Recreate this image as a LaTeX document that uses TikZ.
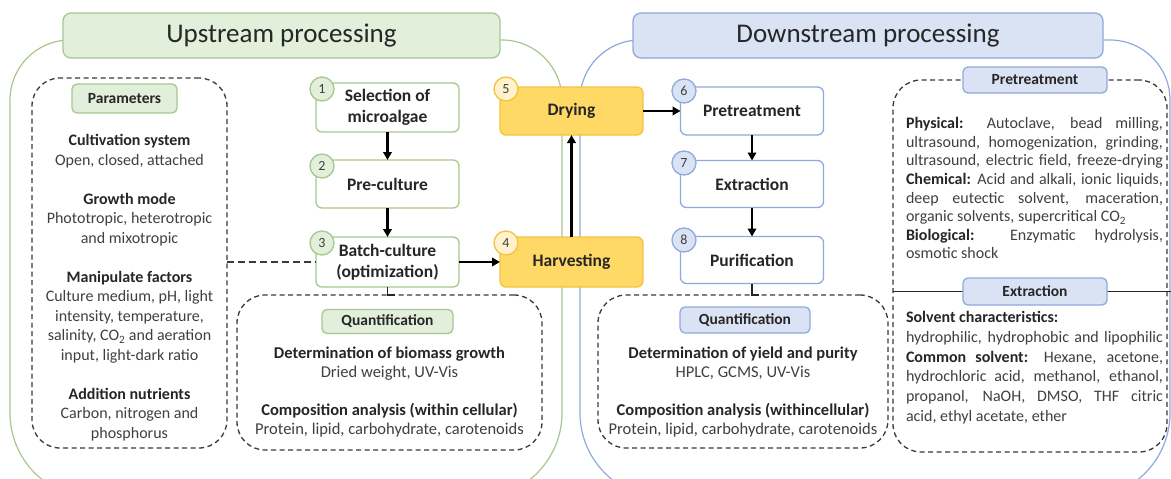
\documentclass[tikz,border=0pt]{standalone}
\usepackage{fontspec}
\setmainfont{Carlito}
\usetikzlibrary{arrows.meta,calc}
\definecolor{gfill}{HTML}{E2EFDA}
\definecolor{gline}{HTML}{A9C790}
\definecolor{bfill}{HTML}{DAE3F3}
\definecolor{bline}{HTML}{8FAADC}
\definecolor{yfill}{HTML}{FFD966}
\definecolor{yline}{HTML}{F5C242}
\definecolor{ycirc}{HTML}{FFF2CC}
\definecolor{txt}{HTML}{262626}
\definecolor{txtl}{HTML}{404040}
\definecolor{dash}{HTML}{3A3A3A}
\newcommand{\jline}[1]{\makebox[257pt][s]{#1}}
\tikzset{
  every node/.style={inner sep=0pt, outer sep=0pt, text=txt},
  outline/.style={line width=1.2pt},
  flow/.style={draw, rounded corners=6pt, line width=1.3pt, fill=white,
    minimum width=143pt, minimum height=48pt, align=center,
    font=\fontsize{17.5}{21}\selectfont\bfseries},
  gflow/.style={flow, draw=gline},
  bflow/.style={flow, draw=bline},
  yflow/.style={flow, draw=yline, fill=yfill},
  circ/.style={circle, minimum size=24pt, line width=1.3pt,
    font=\fontsize{14}{14}\selectfont, text=txtl},
  gcirc/.style={circ, draw=gline, fill=gfill},
  bcirc/.style={circ, draw=bline, fill=bfill},
  ycirc/.style={circ, draw=yline, fill=ycirc},
  titlebox/.style={draw, rounded corners=8pt, line width=1.3pt,
    minimum height=45pt, font=\fontsize{27}{30}\selectfont},
  label/.style={draw, rounded corners=5pt, line width=1.3pt,
    font=\fontsize{15.5}{18}\selectfont\bfseries},
  glabel/.style={label, draw=gline, fill=gfill},
  blabel/.style={label, draw=bline, fill=bfill},
  dbox/.style={draw=dash, dash pattern=on 5pt off 3.5pt, line width=1.3pt,
    rounded corners=28pt},
  body/.style={align=center, text=txtl, font=\fontsize{16}{19.5}\selectfont},
  arr/.style={line width=2.2pt, -{Triangle[length=8pt,width=8.5pt]}},
  dashln/.style={draw=dash, dash pattern=on 7pt off 4pt, line width=1.4pt},
}
\begin{document}
\begin{tikzpicture}[x=1pt, y=-1pt]
\useasboundingbox (0,0) rectangle (1171,479);
\fill[white] (0,0) rectangle (1171,479);
\begin{scope}
\clip (0,0) rectangle (1171,479);
% big outlines
\draw[outline, draw=gline] (10,300) [rounded corners=60pt] -- (10,40) -- (562,40) -- (562,300)
  [rounded corners=85pt] -- (562,498) -- (10,498) -- cycle;
\draw[outline, draw=bline] (580,300) [rounded corners=60pt] -- (580,40) -- (1170,40) -- (1170,300)
  [rounded corners=85pt] -- (1170,498) -- (580,498) -- cycle;
\end{scope}

% titles
\node[titlebox, draw=gline, fill=gfill, minimum width=437pt] (upT) at (281.5,35.5) {Upstream processing};
\node[titlebox, draw=bline, fill=bfill, minimum width=470pt] (dnT) at (868,35.5) {Downstream processing};

% dashed boxes
\node[dbox, minimum width=195pt, minimum height=370pt] (parB) at (129.5,263) {};
\node[dbox, minimum width=305pt, minimum height=155pt] (qU) at (389.5,372.5) {};
\node[dbox, minimum width=290pt, minimum height=153pt] (qD) at (743,371.5) {};
\node[dbox, minimum width=274pt, minimum height=372pt] (rB) at (1030,266) {};

% labels
\node[glabel, minimum width=105pt, minimum height=29pt] (parL) at (124.5,98.5) {Parameters};
\node[glabel, minimum width=131pt, minimum height=24pt] (qUL) at (387.5,321.5) {Quantification};
\node[blabel, minimum width=130pt, minimum height=26pt] (qDL) at (745,320) {Quantification};
\node[blabel, minimum width=144pt, minimum height=26pt] (preL) at (1035,80) {Pretreatment};
\coordinate (edgeR) at (1171,291.5);
\draw[line width=1.2pt, draw=txt] (rB.west |- edgeR) -- (edgeR);
\node[blabel, minimum width=144pt, minimum height=27pt] (extL) at (1035,291.5) {Extraction};

% flow boxes
\node[gflow, minimum height=49pt] (b1) at (387.5,107.5) {Selection of\\microalgae};
\node[gflow] (b2) at (387.5,184) {Pre-culture};
\node[gflow, minimum height=50pt] (b3) at (387.5,262) {Batch-culture\\(optimization)};
\node[yflow] (dry) at (571.5,111) {Drying};
\node[yflow, minimum height=50pt] (harv) at (571.5,262) {Harvesting};
\node[bflow] (b6) at (752,111) {Pretreatment};
\node[bflow, minimum height=47pt] (b7) at (752,184) {Extraction};
\node[bflow, minimum height=47pt] (b8) at (752,260) {Purification};

% circles
\node[gcirc] (c1) at (322,89) {1};
\node[gcirc] (c2) at (322,166) {2};
\node[gcirc] (c3) at (322,243) {3};
\node[ycirc] (c4) at (506,243) {4};
\node[ycirc] (c5) at (506,89) {5};
\node[bcirc] (c6) at (684,91) {6};
\node[bcirc] (c7) at (684,163) {7};
\node[bcirc] (c8) at (684,240) {8};

% arrows
\draw[arr] (b1) -- (b2);
\draw[arr] (b2) -- (b3);
\draw[arr] (b3) -- (harv);
\draw[arr] (harv) -- (dry);
\draw[arr] (dry) -- (b6);
\draw[arr] (b6) -- (b7);
\draw[arr] (b7) -- (b8);
\draw[dashln] (b3.west -| parB.east) -- (b3.west);
\draw[line width=1.2pt, draw=txt] (b3.south) -- (b3.south |- qU.north) -- ++(7,0);
\draw[line width=1.2pt, draw=txt] (b8.south) -- (b8.south |- qD.north) -- ++(7,0);

% texts
\node[body, anchor=north] (parT) at (129.5,134.6) {%
\textbf{\color{txt}Cultivation system}\\ Open, closed, attached\\[19.5pt]
\textbf{\color{txt}Growth mode}\\ Phototropic, heterotropic\\ and mixotropic\\[19.5pt]
\textbf{\color{txt}Manipulate factors}\\ Culture medium, pH, light\\ intensity, temperature,\\
salinity, CO\textsubscript{2} and aeration\\ input, light-dark ratio\\[19.5pt]
\textbf{\color{txt}Addition nutrients}\\ Carbon, nitrogen and\\ phosphorus};

\node[body, anchor=north, font=\fontsize{16.5}{19}\selectfont] (qUT) at (389.5,346.5) {%
\textbf{\color{txt}Determination of biomass growth}\\ Dried weight, UV-Vis\\[19pt]
\textbf{\color{txt}Composition analysis (within cellular)}\\ Protein, lipid, carbohydrate, carotenoids};

\node[body, anchor=north, font=\fontsize{16.5}{19}\selectfont] (qDT) at (743,346.5) {%
\textbf{\color{txt}Determination of yield and purity}\\ HPLC, GCMS, UV-Vis\\[19pt]
\textbf{\color{txt}Composition analysis (withincellular)}\\ Protein, lipid, carbohydrate, carotenoids};

\node[body, align=left, anchor=north west, font=\fontsize{16}{18.6}\selectfont] (preT) at (906,117.5) {%
\jline{\textbf{\color{txt}Physical:} Autoclave, bead milling,}\\
\jline{ultrasound, homogenization, grinding,}\\
\jline{ultrasound, electric field, freeze-drying}\\
\jline{\textbf{\color{txt}Chemical:} Acid and alkali, ionic liquids,}\\
\jline{deep eutectic solvent, maceration,}\\
organic solvents, supercritical CO\textsubscript{2}\\
\jline{\textbf{\color{txt}Biological:} Enzymatic hydrolysis,}\\
osmotic shock};

\node[body, align=left, anchor=north west, font=\fontsize{16}{19.7}\selectfont] (extT) at (906,311.5) {%
\textbf{\color{txt}Solvent characteristics:}\\
\jline{hydrophilic, hydrophobic and lipophilic}\\
\jline{\textbf{\color{txt}Common solvent:} Hexane, acetone,}\\
\jline{hydrochloric acid, methanol, ethanol,}\\
\jline{propanol, NaOH, DMSO, THF citric}\\
acid, ethyl acetate, ether};
\end{tikzpicture}
\end{document}
